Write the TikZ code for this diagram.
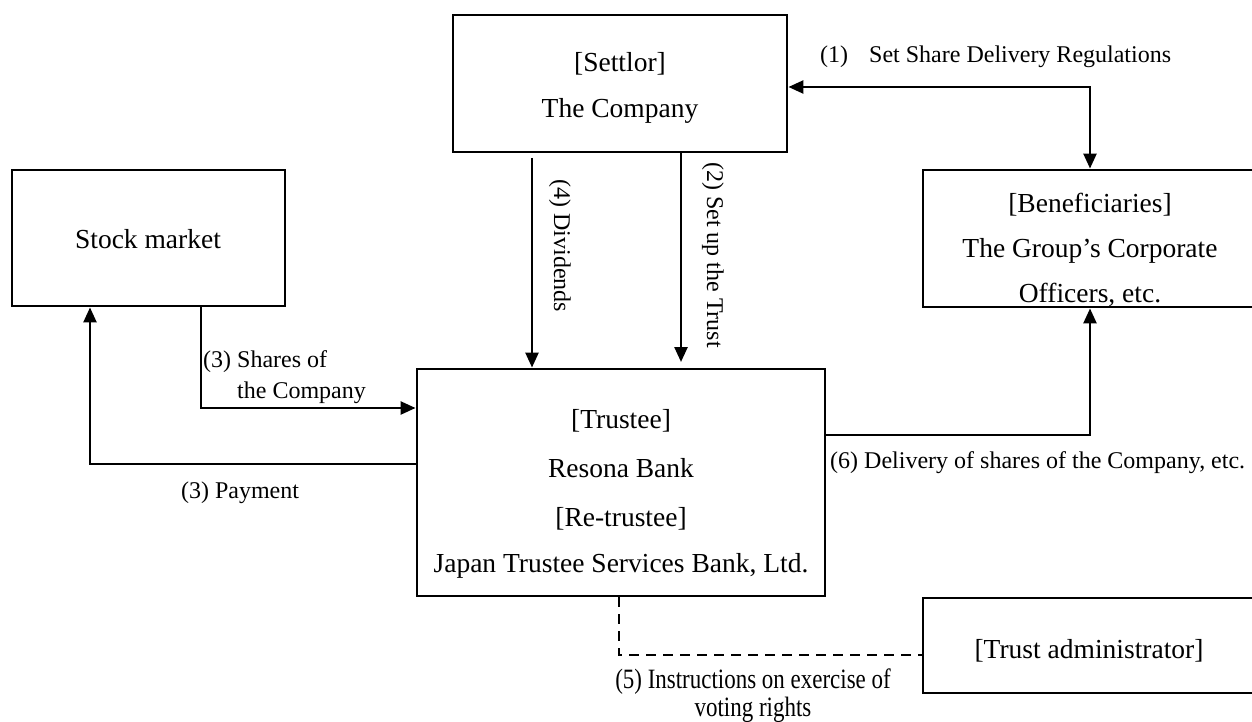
\documentclass[tikz,border=0pt]{standalone}
\usepackage{fontspec}
\usepackage{graphicx}
\setmainfont{Liberation Serif}
\usetikzlibrary{arrows.meta}
\begin{document}
\begin{tikzpicture}[x=1pt,y=-1pt,
  box/.style={draw, line width=2.9pt, inner sep=0pt},
  conn/.style={line width=2.5pt},
  arr/.style={conn, -{Triangle[length=15pt,width=13pt]}},
  dbl/.style={conn, {Triangle[length=15pt,width=13pt]}-{Triangle[length=15pt,width=13pt]}},
  txt/.style={font=\fontsize{27.5pt}{33pt}\selectfont, anchor=base, inner sep=0pt},
  lab/.style={font=\fontsize{24pt}{28pt}\selectfont, inner sep=0pt},
  labc/.style={font=\fontsize{28pt}{30pt}\selectfont, inner sep=0pt, anchor=base},
  ]
\useasboundingbox (0,0) rectangle (1252,722);
% boxes
\node[box, minimum width=334pt, minimum height=137pt] (settlor) at (620,83.5) {};
\node[box, minimum width=273pt, minimum height=136pt] (stock) at (148.5,238) {};
\node[box, minimum width=334pt, minimum height=137pt] (benef) at (1090,238.5) {};
\node[box, minimum width=408pt, minimum height=227pt] (trustee) at (621,482.5) {};
\node[box, minimum width=332pt, minimum height=95pt] (admin) at (1089,645.5) {};
% box texts
\node[txt] (settlorA) at (620,72) {[Settlor]};
\node[txt] (settlorB) at (620,118) {The Company};
\node[txt] (stockA) at (148,248) {Stock market};
\node[txt] (benefA) at (1090,212) {[Beneficiaries]};
\node[txt] (benefB) at (1090,257) {The Group’s Corporate};
\node[txt] (benefC) at (1090,302) {Officers, etc.};
\node[txt] (trA) at (621,428) {[Trustee]};
\node[txt] (trB) at (621,477) {Resona Bank};
\node[txt] (trC) at (621,526) {[Re-trustee]};
\node[txt] (trD) at (621,572) {Japan Trustee Services Bank, Ltd.};
\node[txt] (adminA) at (1089,658) {[Trust administrator]};
% coordinates
\coordinate (c1) at (1090,87);
\coordinate (s1) at (201,408);
\coordinate (p1) at (90,464);
\coordinate (d1) at (1090,435);
\coordinate (t1) at (619,655);
\coordinate (dv) at (532,158);
\coordinate (st) at (681,362);
% connectors
\draw[dbl] (settlor.east |- c1) -- (c1) -- (benef.north);
\draw[arr] (stock.south -| s1) -- (s1) -- (trustee.west |- s1);
\draw[arr] (trustee.west |- p1) -- (p1) -- (stock.south -| p1);
\draw[arr] (trustee.east |- d1) -- (d1) -- (benef.south);
\draw[conn, dash pattern=on 10pt off 7pt] (trustee.south -| t1) -- (t1) -- (admin.west |- t1);
\draw[arr] (dv) -- (trustee.north -| dv);
\draw[arr] (settlor.south -| st) -- (st);
% labels
\node[lab, anchor=base west] (l1) at (820,63) {(1)\hspace{21pt}Set Share Delivery Regulations};
\node[lab, rotate=-90] (l4) at (560,246) {(4) Dividends};
\node[lab, rotate=-90] (l2) at (713,255) {(2) Set up the Trust};
\node[lab, anchor=base west] (l3a) at (203,367) {(3) Shares of};
\node[lab, anchor=base west] (l3b) at (237,398) {the Company};
\node[lab, anchor=base] (l3p) at (240,498) {(3) Payment};
\node[lab, anchor=base west] (l6) at (830,468) {(6) Delivery of shares of the Company, etc.};
\node[labc] (l5a) at (753,688) {\scalebox{0.82}[1]{(5) Instructions on exercise of}};
\node[labc] (l5b) at (753,716) {\scalebox{0.82}[1]{voting rights}};
\end{tikzpicture}
\end{document}
